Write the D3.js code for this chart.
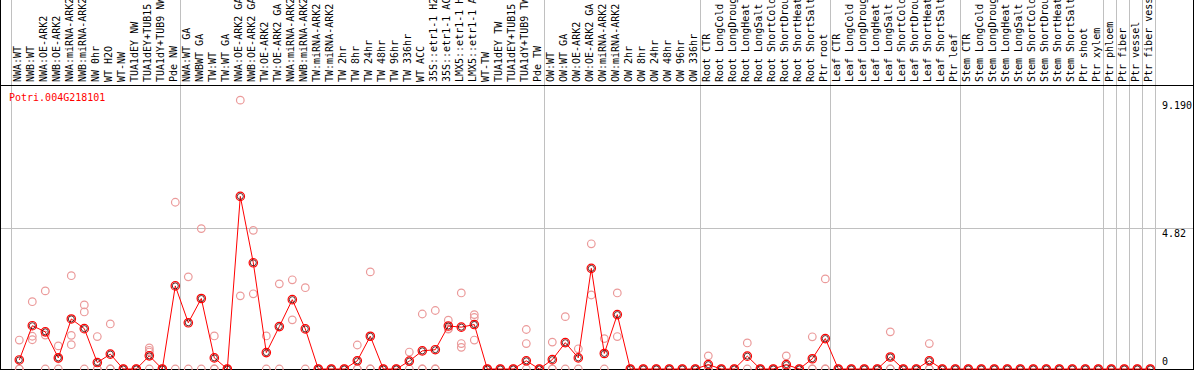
<html>
<head>
  <title></title>
  <style>
    body { margin: 0; background: #fff; }
    text { font-family: "DejaVu Sans Mono", monospace; font-size: 10px; }
  </style>
</head>
<body>
<script src="https://d3js.org/d3.v7.min.js"></script>
<script type="text/javascript">

var geneName = "Potri.004G218101";

// long names get cut at the top edge, as in the original plot
var categories = [
  "NWA:WT", "NWB:WT", "NWA:OE-ARK2", "NWB:OE-ARK2", "NWA:miRNA-ARK2", "NWB:miRNA-ARK2",
  "NW 0hr", "WT H2O", "WT-NW", "TUA1dEY NW", "TUA1dEY+TUB15 NW", "TUA1dY+TUB9 NW", "Pde NW",
  "NWA:WT GA", "NWBWT GA", "TW:WT", "TW:WT GA", "NWA:OE-ARK2 GA", "NWB:OE-ARK2 GA",
  "TW:OE-ARK2", "TW:OE-ARK2 GA", "NWA:miRNA-ARK2 GA", "NWB:miRNA-ARK2 GA", "TW:miRNA-ARK2",
  "TW:miRNA-ARK2 GA", "TW 2hr", "TW 8hr", "TW 24hr", "TW 48hr", "TW 96hr", "TW 336hr", "WT ACC",
  "35S::etr1-1 H2O", "35S::etr1-1 ACC", "LMX5::etr1-1 H2O", "LMX5::etr1-1 ACC",
  "WT-TW", "TUA1dEY TW", "TUA1dEY+TUB15 TW", "TUA1dY+TUB9 TW", "Pde TW",
  "OW:WT", "OW:WT GA", "OW:OE-ARK2", "OW:OE-ARK2 GA", "OW:miRNA-ARK2", "OW:miRNA-ARK2 GA",
  "OW 2hr", "OW 8hr", "OW 24hr", "OW 48hr", "OW 96hr", "OW 336hr",
  "Root CTR", "Root LongCold", "Root LongDrought", "Root LongHeat", "Root LongSalt",
  "Root ShortCold", "Root ShortDrought", "Root ShortHeat", "Root ShortSalt", "Ptr root",
  "Leaf CTR", "Leaf LongCold", "Leaf LongDrought", "Leaf LongHeat", "Leaf LongSalt",
  "Leaf ShortCold", "Leaf ShortDrought", "Leaf ShortHeat", "Leaf ShortSalt", "Ptr leaf",
  "Stem CTR", "Stem LongCold", "Stem LongDrought", "Stem LongHeat", "Stem LongSalt",
  "Stem ShortCold", "Stem ShortDrought", "Stem ShortHeat", "Stem ShortSalt", "Ptr shoot",
  "Ptr xylem", "Ptr phloem", "Ptr fiber", "Ptr vessel", "Ptr fiber vessel"
];

// group boundaries (category index where a new group starts)
var groupBreaks = [0, 13, 41, 53, 63, 73, 84, 85, 86, 87, 88];

var means = [
  0.31, 1.48, 1.27, 0.38, 1.71, 1.38, 0.22, 0.51, 0, 0, 0.45, 0, 2.84,
  1.58, 2.41, 0.38, 0, 5.90, 3.63, 0.56, 1.45, 2.37, 1.37, 0, 0, 0, 0.28, 1.12,
  0, 0, 0.27, 0.62, 0.66, 1.47, 1.43, 1.52, 0, 0, 0, 0.28, 0,
  0.32, 0.90, 0.38, 3.44, 0.53, 1.86, 0, 0, 0, 0, 0, 0,
  0.15, 0, 0, 0.44, 0, 0, 0.15, 0, 0.35, 1.04,
  0, 0, 0, 0, 0.41, 0, 0, 0.28, 0, 0,
  0, 0, 0, 0, 0, 0, 0, 0, 0, 0, 0,
  0, 0, 0, 0
];

var replicates = [
  [0.99, 0, 0], [2.30, 1.12, 1.00], [2.67, 1.16, 0], [0.79, 0.35, 0], [3.19, 1.15, 0.83],
  [2.19, 1.95, 0], [1.11, 0, 0], [1.54, 0, 0], [0, 0], [0, 0], [0.72, 0.64, 0.58, 0],
  [0, 0], [5.70, 0],
  [3.15, 0], [4.80, 0], [1.13, 0, 0], [0, 0], [9.19, 2.50], [4.74, 2.57], [1.13, 0],
  [2.91, 0], [3.05, 1.68], [2.78, 0], [0, 0], [0, 0], [0, 0], [0.82, 0, 0], [3.32, 0, 0],
  [0, 0], [0, 0], [0.58, 0], [1.88, 0, 0], [2.00, 0, 0], [1.67, 1.38, 1.36],
  [2.60, 0.87, 0.74], [1.86, 1.76, 0.99], [0, 0], [0, 0], [0, 0], [1.35, 0.87, 0], [0, 0],
  [0.92, 0, 0], [1.79, 0], [0.69, 0], [4.28, 2.53], [1.04, 0], [2.60, 1.11],
  [0, 0], [0, 0], [0, 0], [0, 0], [0, 0], [0, 0],
  [0.45, 0, 0], [0, 0], [0, 0], [0.89, 0], [0, 0], [0, 0], [0.45, 0, 0], [0, 0],
  [1.10, 0, 0], [3.08, 0, 0],
  [0, 0], [0, 0], [0, 0], [0, 0], [1.27, 0, 0], [0, 0], [0, 0], [0.87, 0, 0], [0, 0], [0, 0],
  [0, 0], [0, 0], [0, 0], [0, 0], [0, 0], [0, 0], [0, 0], [0, 0], [0, 0], [0, 0], [0, 0],
  [0, 0], [0, 0], [0, 0], [0, 0]
];

var yTicks = [0, 4.82, 9.19];
var yTickLabels = ["0", "4.82", "9.190"];

var width = 1194,
    height = 370,
    labelBottom = 85,
    plotTop = 87,
    plotBottom = 369;

var x = d3.scaleLinear().domain([0, categories.length]).range([11, 11 + 13 * categories.length]);
var y = d3.scaleLinear().domain([0, 4.82 * 2]).range([plotBottom, plotTop]);

function px(i) { return x(i) + 8.3; }

var svg = d3.select("body").append("svg").attr("width", width).attr("height", height);

// vertical group lines
svg.selectAll("line.vgrid")
  .data(groupBreaks)
  .enter().append("line")
  .attr("class", "vgrid")
  .attr("x1", function(d) { return Math.round(x(d)) + 0.5; })
  .attr("x2", function(d) { return Math.round(x(d)) + 0.5; })
  .attr("y1", 0)
  .attr("y2", plotBottom)
  .style("stroke", "#c0c0c0");

// horizontal mid line
svg.append("line")
  .attr("x1", 0).attr("x2", width)
  .attr("y1", Math.round(y(4.82)) + 0.5).attr("y2", Math.round(y(4.82)) + 0.5)
  .style("stroke", "#c0c0c0");

// frame lines
svg.append("line").attr("x1", 0).attr("x2", width).attr("y1", labelBottom + 0.5).attr("y2", labelBottom + 0.5).style("stroke", "#000");
svg.append("line").attr("x1", 0).attr("x2", width).attr("y1", plotBottom + 0.5).attr("y2", plotBottom + 0.5).style("stroke", "#000");
svg.append("line").attr("x1", 0.5).attr("x2", 0.5).attr("y1", 0).attr("y2", height).style("stroke", "#000");
svg.append("line").attr("x1", width - 0.5).attr("x2", width - 0.5).attr("y1", 0).attr("y2", height).style("stroke", "#000");

// category labels, rotated
svg.selectAll("text.cat")
  .data(categories)
  .enter().append("text")
  .attr("class", "cat")
  .attr("transform", function(d, i) { return "translate(" + (x(i) + 10) + "," + (labelBottom - 3) + ") rotate(-90)"; })
  .style("fill", "#000")
  .text(function(d) { return d; });

// gene name
svg.append("text")
  .attr("x", 9).attr("y", 101)
  .style("fill", "#f00")
  .text(geneName);

// y labels
svg.selectAll("text.ylab")
  .data(yTicks)
  .enter().append("text")
  .attr("class", "ylab")
  .attr("x", 1162)
  .attr("y", function(d) { return Math.min(y(d) + 8.5, plotBottom - 4); })
  .style("fill", "#000")
  .text(function(d, i) { return yTickLabels[i]; });

// replicate points
var reps = [];
replicates.forEach(function(r, i) { r.forEach(function(v) { reps.push({i: i, v: v}); }); });

svg.selectAll("circle.rep")
  .data(reps)
  .enter().append("circle")
  .attr("class", "rep")
  .attr("cx", function(d) { return px(d.i); })
  .attr("cy", function(d) { return y(d.v); })
  .attr("r", 3.8)
  .style("fill", "none")
  .style("stroke", "#eb9a9a")
  .style("stroke-width", 1.2);

// mean line
var line = d3.line()
  .x(function(d, i) { return px(i); })
  .y(function(d) { return y(d); });

svg.append("path")
  .datum(means)
  .attr("d", line)
  .style("fill", "none")
  .style("stroke", "#f00")
  .style("stroke-width", 1);

// mean markers
svg.selectAll("circle.mean")
  .data(means)
  .enter().append("circle")
  .attr("class", "mean")
  .attr("cx", function(d, i) { return px(i); })
  .attr("cy", function(d) { return y(d); })
  .attr("r", 4.2)
  .style("fill", "none")
  .style("stroke", "#f00")
  .style("stroke-width", 1.2);

svg.selectAll("circle.meanin")
  .data(means)
  .enter().append("circle")
  .attr("class", "meanin")
  .attr("cx", function(d, i) { return px(i); })
  .attr("cy", function(d) { return y(d); })
  .attr("r", 3)
  .style("fill", "none")
  .style("stroke", "#300")
  .style("stroke-width", 0.8);

</script>
</body>
</html>
